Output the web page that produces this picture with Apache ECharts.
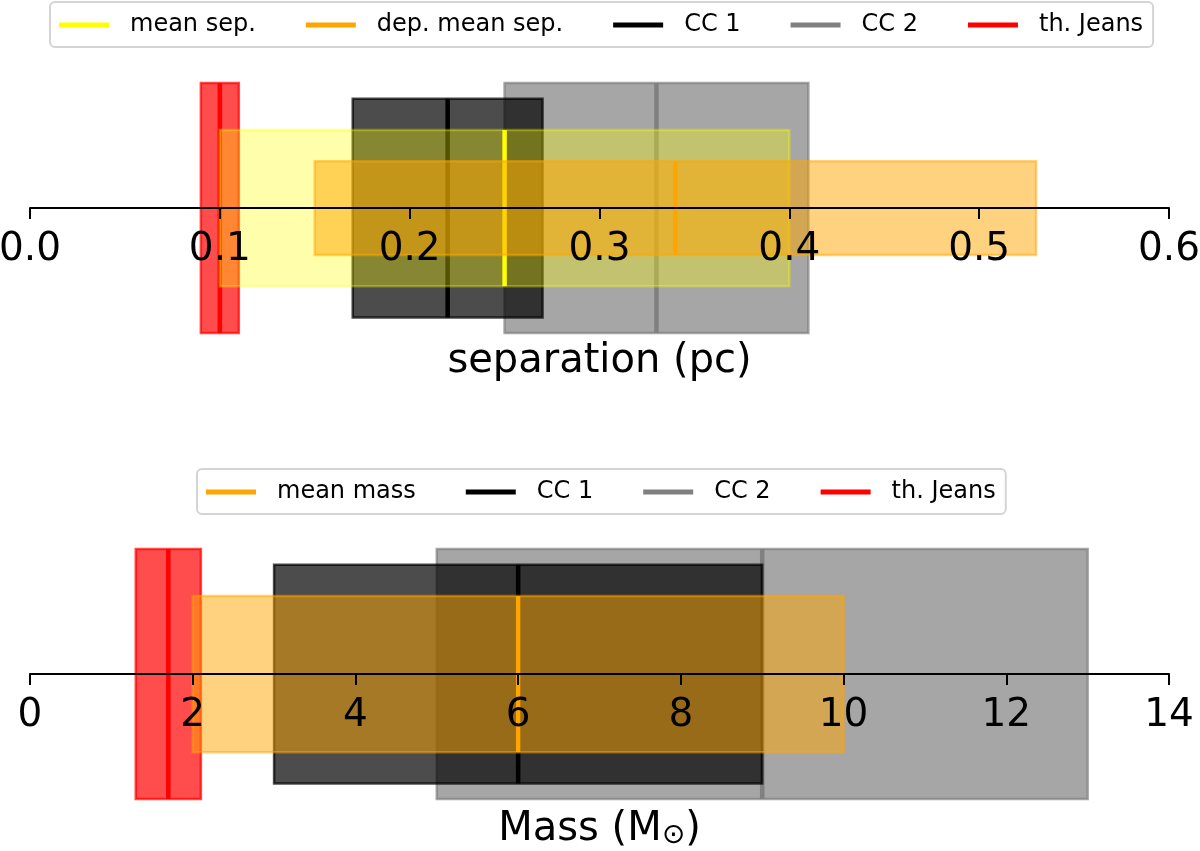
<!DOCTYPE html>
<html>
<head>
<meta charset="utf-8">
<style>
  html, body { margin: 0; padding: 0; background: #fff; }
  #chart { width: 1200px; height: 851px; }
</style>
<script src="https://cdn.jsdelivr.net/npm/echarts@6/dist/echarts.min.js"></script>
</head>
<body>
<div id="chart"></div>
<script>
// separation panel (pc): range low / high and the central value
const sepNames = ['mean sep.', 'dep. mean sep.', 'CC 1', 'CC 2', 'th. Jeans']
const sepLow = [0.10, 0.15, 0.17, 0.25, 0.09]
const sepHigh = [0.40, 0.53, 0.27, 0.41, 0.11]
const sepMid = [0.25, 0.34, 0.22, 0.33, 0.10]
const sepTicks = [0.0, 0.1, 0.2, 0.3, 0.4, 0.5, 0.6]

// mass panel (Msun)
const massNames = ['mean mass', 'CC 1', 'CC 2', 'th. Jeans']
const massLow = [2, 3, 5, 1.3]
const massHigh = [10, 9, 13, 2.1]
const massMid = [6, 6, 9, 1.7]
const massTicks = [0, 2, 4, 6, 8, 10, 12, 14]

const FONT = 'DejaVu Sans'

// look of each band: colour, fill alpha, half height (y units), layer
const looks = {
  'mean sep.': { color: '#ffff00', alpha: 0.33, half: 0.625, z: 5 },
  'dep. mean sep.': { color: '#ffa500', alpha: 0.5, half: 0.375, z: 6 },
  'mean mass': { color: '#ffa500', alpha: 0.5, half: 0.625, z: 6 },
  'CC 1': { color: '#000000', alpha: 0.7, half: 0.875, z: 4 },
  'CC 2': { color: '#808080', alpha: 0.7, half: 1, z: 3 },
  'th. Jeans': { color: '#ff0000', alpha: 0.7, half: 1, z: 2 }
}

// the x axis sits at y = 0, the bands are drawn symmetric around it
// (the grid only covers the upper half, custom series are not clipped)
const bandRenderer = look => (params, api) => {
  const lo = api.value(0)
  const hi = api.value(1)
  const mid = api.value(2)
  const a = api.coord([lo, look.half])
  const b = api.coord([hi, -look.half])
  const t = api.coord([mid, look.half])
  const u = api.coord([mid, -look.half])
  return {
    type: 'group',
    children: [
      {
        type: 'rect',
        shape: { x: a[0], y: a[1], width: b[0] - a[0], height: b[1] - a[1] },
        style: { fill: look.color, stroke: look.color, lineWidth: 2.5, opacity: look.alpha }
      },
      {
        type: 'line',
        shape: { x1: t[0], y1: t[1], x2: u[0], y2: u[1] },
        style: { stroke: look.color, lineWidth: 4.5 }
      }
    ]
  }
}

const makeSeries = (names, low, high, mid, axisIndex) =>
  names.map((name, i) => ({
    name,
    type: 'custom',
    xAxisIndex: axisIndex,
    yAxisIndex: axisIndex,
    z: looks[name].z,
    silent: true,
    clip: false,
    renderItem: bandRenderer(looks[name]),
    data: [[low[i], high[i], mid[i]]]
  }))

const makeLegend = (names, left, top) => ({
  left,
  top,
  selectedMode: false,
  icon: 'rect',
  itemWidth: 50,
  itemHeight: 5,
  itemGap: 50,
  padding: [11, 10, 10, 9],
  backgroundColor: '#fff',
  borderColor: '#d4d4d4',
  borderWidth: 2,
  borderRadius: 5,
  textStyle: { fontFamily: FONT, fontSize: 24, color: '#000', padding: [0, 0, 0, 16] },
  data: names.map(name => ({ name, itemStyle: { color: looks[name].color, opacity: 1 } }))
})

const makeXAxis = (index, ticks, digits, name, nameGap) => ({
  type: 'value',
  gridIndex: index,
  min: ticks[0],
  max: ticks[ticks.length - 1],
  interval: ticks[1] - ticks[0],
  z: 10,
  splitLine: { show: false },
  axisLine: { onZero: false, lineStyle: { color: '#000', width: 2 } },
  axisTick: { length: 11, lineStyle: { color: '#000', width: 2 } },
  axisLabel: {
    margin: 22,
    color: '#000',
    fontFamily: FONT,
    fontSize: 39,
    formatter: v => v.toFixed(digits)
  },
  name,
  nameLocation: 'middle',
  nameGap,
  nameTextStyle: {
    color: '#000',
    fontFamily: FONT,
    fontSize: 40,
    rich: {
      sub: { fontFamily: FONT, fontSize: 28, color: '#000', verticalAlign: 'bottom', padding: [12, 0, 0, 0] }
    }
  }
})

const hiddenY = index => ({
  type: 'value',
  gridIndex: index,
  min: 0,
  max: 1.2,
  show: false
})

const chart = echarts.init(document.getElementById('chart'))

chart.setOption({
  animation: false,
  backgroundColor: '#fff',
  legend: [
    makeLegend(sepNames, 50, 2),
    makeLegend(massNames, 197, 469)
  ],
  grid: [
    { left: 30, right: 31, top: 58, height: 150, outerBoundsMode: 'none', containLabel: false },
    { left: 30, right: 31, top: 524, height: 150, outerBoundsMode: 'none', containLabel: false }
  ],
  xAxis: [
    makeXAxis(0, sepTicks, 1, 'separation (pc)', 134),
    makeXAxis(1, massTicks, 0, 'Mass (M{sub|⊙})', 136)
  ],
  yAxis: [hiddenY(0), hiddenY(1)],
  series: [
    ...makeSeries(sepNames, sepLow, sepHigh, sepMid, 0),
    ...makeSeries(massNames, massLow, massHigh, massMid, 1)
  ]
})

window.addEventListener('resize', () => chart.resize())
</script>
</body>
</html>
